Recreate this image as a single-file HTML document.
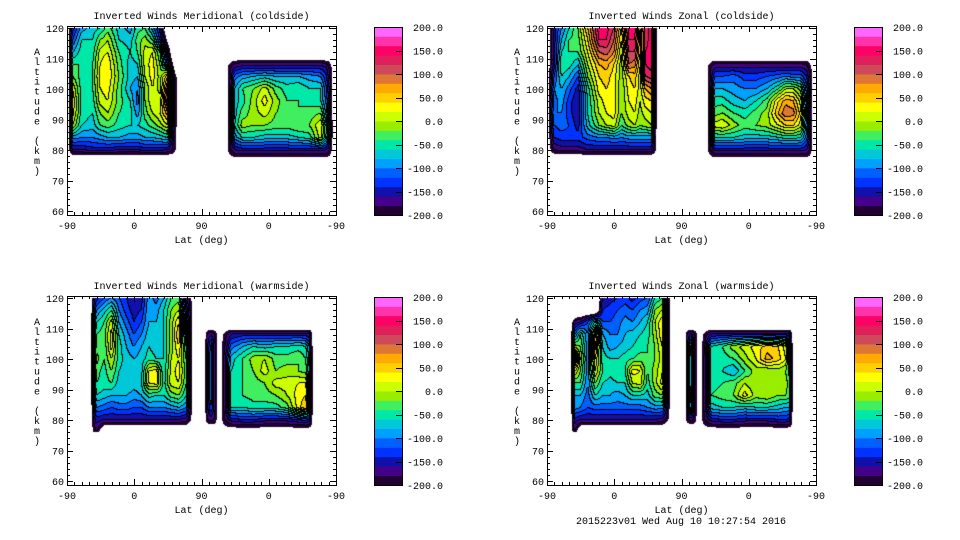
<!DOCTYPE html>
<html><head><meta charset="utf-8">
<style>
html,body{margin:0;padding:0;background:#fff;}
#root{position:relative;width:960px;height:540px;overflow:hidden;background:#fff;}
canvas{position:absolute;}
svg{position:absolute;left:0;top:0;}
text{font-family:"Liberation Mono",monospace;font-size:10px;fill:#000;}
</style></head>
<body>
<div id="root">
<svg id="ov" width="960" height="540"></svg>
</div>
<script>
const levelMin = -200;
const levelStep = 20;
const bandColors = ["#220033","#440088","#1010aa","#0033ff","#0060ff","#00a0ff","#00c8d8","#00e8a8","#40ee60","#99ee00","#ccff00","#ffff00","#ffd000","#ffaa00","#dd7733","#cc4a5a","#e0205a","#ff0066","#ff33aa","#ff66ff"];
const cbarTicks = [200,150,100,50,0,-50,-100,-150,-200];
const xTickLabels = ["-90","0","90","0","-90"];
const xTickPos = [0,90,180,270,360];
const yTicks = [60,70,80,90,100,110,120];

// ---------- Panel A: Meridional coldside ----------
const aLeftLat = [2,8,20,35,45,55,70,85,95,105,115,125,135,143,148];
const aLeftAlt = [120,116,112,108,104,100,96,92,88,84,80,78];
const aLeftVal = [
[-240,-150,-90,-70,-60,-30,-70,-90,-50,-40,-90,-150,-260,-260,-260],
[-240,-120,-60,-60,-20,0,-60,-70,-30,-10,-40,-120,-240,-260,-260],
[-240,-80,-50,-50,10,20,-40,-60,-40,10,20,-40,-160,-260,-260],
[-240,-40,-40,-40,20,40,-30,-70,-60,10,30,-20,-120,-240,-260],
[-240,-20,-50,-40,30,40,-20,-70,-80,0,30,-10,60,-170,-240],
[-240,20,-50,-40,20,30,-30,-80,-100,-20,20,-10,110,-160,-240],
[-240,40,-50,-50,10,20,-30,-60,-110,-20,20,10,130,-160,-240],
[-240,30,-50,-60,-20,0,-40,-50,-90,-30,0,20,70,-160,-240],
[-240,0,-60,-70,-40,-30,-50,-60,-60,-50,-30,-10,20,-170,-240],
[-240,-90,-100,-100,-90,-80,-80,-90,-90,-80,-80,-70,-60,-180,-240],
[-240,-160,-160,-150,-150,-150,-160,-160,-160,-150,-150,-150,-160,-190,-240],
[-240,-240,-240,-240,-240,-240,-240,-240,-240,-240,-240,-240,-240,-240,-240]];
const aRightLat = [211,218,225,235,250,265,280,295,310,325,340,348,356];
const aRightAlt = [110,107,104,100,96,92,88,84,80,77];
const aRightVal = [
[-240,-240,-240,-240,-240,-240,-240,-240,-240,-240,-240,-240,-240],
[-240,-190,-160,-150,-150,-150,-150,-150,-150,-150,-150,-160,-240],
[-240,-190,-110,-90,-80,-70,-80,-80,-80,-90,-100,-140,-240],
[-240,-190,-80,-40,-20,10,-30,-50,-40,-60,-60,-120,-240],
[-240,-190,-70,-50,-10,30,-10,-40,-40,-50,-60,-110,-240],
[-240,-190,-70,-30,-10,10,-20,-30,-40,-30,-20,-90,-240],
[-240,-190,-60,-10,-20,-20,-30,-30,-20,-20,20,-60,-240],
[-240,-190,-90,-60,-60,-70,-70,-70,-60,-50,10,-70,-240],
[-240,-190,-160,-150,-150,-150,-150,-150,-150,-150,-150,-160,-240],
[-240,-240,-240,-240,-240,-240,-240,-240,-240,-240,-240,-240,-240]];

// ---------- Panel B: Zonal coldside ----------
const bLeftLat = [2,10,20,30,42,55,70,80,90,100,110,118,125,132,140,147];
const bLeftAlt = [120,116,112,108,104,100,96,92,88,84,80,78];
const bLeftVal = [
[-240,-150,-100,-60,-20,60,150,150,120,40,150,150,60,130,150,-240],
[-240,-150,-80,-40,-30,40,140,140,100,20,140,140,50,130,150,-240],
[-240,-150,-60,-40,-40,20,100,110,80,0,120,120,40,140,150,-240],
[-240,-150,-40,-50,-80,0,60,70,40,-10,100,90,20,140,150,-240],
[-240,-120,-60,-80,-120,-20,40,50,30,-10,40,50,10,120,130,-240],
[-240,-100,-80,-110,-150,-50,30,40,30,-20,30,40,10,60,80,-240],
[-240,-110,-90,-130,-160,-60,10,30,30,-20,20,30,0,30,40,-240],
[-240,-100,-100,-130,-160,-60,0,20,30,-20,10,20,-10,10,20,-240],
[-240,-120,-110,-120,-150,-70,-20,0,10,-40,-10,0,-20,-10,0,-240],
[-240,-140,-130,-130,-130,-110,-100,-100,-90,-100,-90,-90,-90,-90,-90,-240],
[-240,-180,-170,-170,-170,-160,-160,-160,-160,-160,-160,-160,-160,-160,-160,-240],
[-240,-240,-240,-240,-240,-240,-240,-240,-240,-240,-240,-240,-240,-240,-240,-240]];
const bRightLat = [211,218,225,235,250,265,280,295,310,320,330,340,348,356];
const bRightAlt = [110,107,104,100,96,92,88,84,80,77];
const bRightVal = [
[-240,-240,-240,-240,-240,-240,-240,-240,-240,-240,-240,-240,-240,-240],
[-240,-190,-160,-160,-160,-160,-160,-160,-160,-160,-160,-160,-170,-240],
[-240,-190,-120,-120,-110,-130,-130,-120,-110,-100,-110,-110,-140,-240],
[-240,-190,-80,-80,-90,-100,-100,-80,-40,0,0,-30,-110,-240],
[-240,-190,-50,-50,-70,-80,-60,-30,40,70,60,10,-90,-240],
[-240,-190,-30,-20,-40,-50,-30,-10,60,100,90,30,-80,-240],
[-240,-190,10,20,-10,-30,-20,-10,20,40,40,10,-90,-240],
[-240,-190,-60,-60,-60,-70,-70,-70,-60,-50,-50,-60,-110,-240],
[-240,-190,-150,-150,-150,-150,-150,-150,-150,-150,-150,-150,-160,-240],
[-240,-240,-240,-240,-240,-240,-240,-240,-240,-240,-240,-240,-240,-240]];

// ---------- Panel C: Meridional warmside ----------
const cLeftLat = [32,40,50,60,70,80,90,100,110,120,130,140,150,160,168,173];
const cLeftAlt = [120,116,112,108,104,100,96,92,88,84,80,76];
const cLeftVal = [
[-240,-150,-120,-100,-120,-140,-160,-150,-90,-110,-80,-40,-30,-150,-240,-240],
[-240,-100,-70,-40,-100,-130,-150,-140,-80,-90,-60,-20,0,-120,-240,-240],
[-240,-60,-40,10,-80,-110,-140,-120,-80,-80,-60,-10,40,-100,-240,-240],
[-240,-40,-30,30,-60,-90,-120,-100,-70,-80,-60,-10,60,-80,-240,-240],
[-240,-30,-40,30,-50,-80,-100,-80,-60,-70,-60,-10,40,-60,-240,-240],
[-240,-10,-40,0,-50,-70,-80,-70,-50,-60,-60,0,20,-40,-240,-240],
[-240,-30,-50,-20,-60,-70,-70,-70,20,30,-60,10,30,-30,-240,-240],
[-240,-40,-50,-40,-70,-60,-70,-60,20,30,-50,10,20,-40,-240,-240],
[-240,-60,-70,-80,-80,-80,-90,-80,-50,-60,-60,-30,-20,-60,-240,-240],
[-240,-100,-110,-120,-110,-110,-120,-120,-100,-100,-100,-90,-80,-100,-240,-240],
[-240,-150,-160,-160,-160,-160,-160,-160,-160,-160,-160,-160,-160,-170,-240,-240],
[-240,-180,-250,-250,-250,-250,-250,-250,-250,-250,-250,-250,-250,-250,-250,-240]];
const cMidLat = [184,188,193,198,202];
const cMidAlt = [110,108,104,96,88,84,80,78];
const cMidVal = [
[-240,-240,-240,-240,-240],
[-240,-180,-160,-180,-240],
[-240,-170,-110,-170,-240],
[-240,-170,-100,-170,-240],
[-240,-170,-100,-170,-240],
[-240,-170,-120,-170,-240],
[-240,-185,-170,-185,-240],
[-240,-240,-240,-240,-240]];
const cRightLat = [205,212,220,235,250,265,280,295,310,320,325,329];
const cRightAlt = [110,108,104,100,96,92,88,84,80,77];
const cRightVal = [
[-240,-240,-240,-240,-240,-240,-240,-240,-240,-240,-240,-240],
[-240,-190,-160,-150,-150,-150,-150,-150,-150,-150,-160,-240],
[-240,-180,-110,-80,-60,-70,-60,-60,-50,-60,-100,-240],
[-240,-170,-70,-40,-10,0,-30,-30,-20,-40,-90,-240],
[-240,-170,-60,-40,-20,10,-20,-10,-20,-30,-80,-240],
[-240,-170,-50,-40,-30,-20,10,10,20,20,-60,-240],
[-240,-170,-50,-40,-30,-30,-20,0,30,40,-40,-240],
[-240,-170,-60,-60,-50,-50,-50,-30,30,60,-40,-240],
[-240,-180,-150,-140,-140,-150,-150,-150,-140,-130,-150,-240],
[-240,-240,-240,-240,-240,-240,-240,-240,-240,-240,-240,-240]];

// ---------- Panel D: Zonal warmside ----------
const dLeftLat = [32,38,45,55,65,75,85,95,105,115,125,135,145,155,165,173];
const dLeftAlt = [120,116,112,108,104,100,96,92,88,84,80,76];
const dLeftVal = [
[-250,-250,-250,-250,-250,-160,-150,-140,-130,-150,-130,-120,-60,-40,-240,-240],
[-250,-250,-250,-250,-250,-140,-130,-120,-110,-120,-100,-90,-20,0,-240,-240],
[-240,-170,-160,-120,-60,-120,-120,-110,-90,-100,-80,-60,0,40,-240,-240],
[-240,-100,-40,-100,50,-80,-100,-100,-80,-70,-60,-50,-10,40,-240,-240],
[-240,-10,-20,-90,70,-60,-90,-80,-70,-60,-50,-40,-20,20,-240,-240],
[-240,110,0,-90,40,-50,-60,-60,-50,-40,-30,-40,-20,10,-240,-240],
[-240,20,-20,-90,20,-40,-50,-40,-40,30,20,-40,-10,20,-240,-240],
[-240,-40,-40,-100,-20,-60,-70,-60,-60,0,10,-50,-10,30,-240,-240],
[-240,-80,-80,-110,-60,-80,-80,-90,-80,-60,-60,-70,-30,-20,-240,-240],
[-240,-90,-100,-120,-110,-110,-110,-110,-110,-110,-110,-100,-90,-90,-240,-240],
[-240,-150,-160,-160,-160,-160,-160,-160,-160,-160,-160,-160,-160,-170,-240,-240],
[-240,-180,-250,-250,-250,-250,-250,-250,-250,-250,-250,-250,-250,-250,-250,-240]];
const dMidLat = [184,188,193,198,202];
const dMidAlt = [110,108,104,96,88,84,80,78];
const dMidVal = [
[-240,-240,-240,-240,-240],
[-240,-180,-150,-180,-240],
[-240,-180,-60,-180,-240],
[-240,-180,-50,-180,-240],
[-240,-180,-60,-180,-240],
[-240,-180,-80,-180,-240],
[-240,-190,-170,-190,-240],
[-240,-240,-240,-240,-240]];
const dRightLat = [205,212,220,235,250,265,280,295,310,320,325,329];
const dRightAlt = [110,108,104,100,96,92,88,84,80,77];
const dRightVal = [
[-240,-240,-240,-240,-240,-240,-240,-240,-240,-240,-240,-240],
[-240,-190,-160,-150,-150,-150,-150,-150,-150,-150,-160,-240],
[-240,-180,-60,-40,-10,10,30,50,40,10,-80,-240],
[-240,-170,-50,-50,-40,-10,20,70,50,20,-60,-240],
[-240,-170,-60,-60,-80,-40,-10,-20,-10,-20,-50,-240],
[-240,-170,-50,-40,-30,0,-20,-10,0,-10,-30,-240],
[-240,-170,-40,-30,-20,30,-10,0,-20,-20,-30,-240],
[-240,-170,-70,-60,-60,-70,-60,-60,-70,-80,-80,-240],
[-240,-180,-150,-140,-140,-150,-150,-150,-140,-140,-150,-240],
[-240,-240,-240,-240,-240,-240,-240,-240,-240,-240,-240,-240]];

const panelTitles = ["Inverted Winds Meridional (coldside)","Inverted Winds Zonal (coldside)","Inverted Winds Meridional (warmside)","Inverted Winds Zonal (warmside)"];
const panelNames = ["meridional-coldside","zonal-coldside","meridional-warmside","zonal-warmside"];

const root = document.getElementById('root');
const ov = document.getElementById('ov');
const NS = 'http://www.w3.org/2000/svg';
const FW = 269, FH = 189;
const EDGE_RENDER = -212;

function sv(tag, attrs, parent){
  const e = document.createElementNS(NS, tag);
  for (const k in attrs) e.setAttribute(k, attrs[k]);
  (parent||ov).appendChild(e);
  return e;
}
function interp(arr, x){
  const asc = arr[arr.length-1] > arr[0];
  for (let i=0;i<arr.length-1;i++){
    const a=arr[i], b=arr[i+1];
    if ((asc && x>=a && x<=b) || (!asc && x<=a && x>=b)) return [i,(x-a)/(b-a)];
  }
  return null;
}
function ev(v){ return v===-240 ? EDGE_RENDER : v; }
function bandOf(v){ let b=Math.floor((v-levelMin)/levelStep); return Math.max(0,Math.min(19,b)); }
function hex(c){ return [parseInt(c.substr(1,2),16),parseInt(c.substr(3,2),16),parseInt(c.substr(5,2),16)]; }
const rgb = bandColors.map(hex);

function drawPanel(idx, ox, oy, blocks){
  const xOf = u => ox + u*FW/360;
  const yOf = a => oy + 2 + (120-a)*183/60;
  const uOf = px => (px-ox)*360/FW;
  const aOf = py => 120 - (py-oy-2)*60/183;
  const cv = document.createElement('canvas');
  cv.width = FW; cv.height = FH;
  cv.style.left = ox+'px'; cv.style.top = oy+'px';
  
  
  root.insertBefore(cv, ov);
  const ctx = cv.getContext('2d');
  const band = new Int8Array(FW*FH).fill(-1);
  for (let py=0; py<FH; py++){
    for (let px=0; px<FW; px++){
      const u = uOf(ox+px+0.5), a = aOf(oy+py+0.5);
      for (const bl of blocks){
        const sx = interp(bl.lat, u); if(!sx) continue;
        const sy = interp(bl.alt, a); if(!sy) continue;
        const [i,fx]=sx, [j,fy]=sy;
        const v00=ev(bl.val[j][i]), v01=ev(bl.val[j][i+1]), v10=ev(bl.val[j+1][i]), v11=ev(bl.val[j+1][i+1]);
        const v = (v00*(1-fx)+v01*fx)*(1-fy) + (v10*(1-fx)+v11*fx)*fy;
        if (v < -200) break;
        band[py*FW+px] = bandOf(v);
        break;
      }
    }
  }
  const img = ctx.createImageData(FW, FH);
  for (let py=0; py<FH; py++){
    for (let px=0; px<FW; px++){
      const k = py*FW+px, b = band[k];
      const o = k*4;
      if (b<0){ img.data[o+3]=0; continue; }
      let edge = false;
      if (px<FW-1 && band[k+1]>=0 && band[k+1]!==b) edge = true;
      if (py<FH-1 && band[k+FW]>=0 && band[k+FW]!==b) edge = true;
      const c = edge ? [0,0,0] : rgb[b];
      img.data[o]=c[0]; img.data[o+1]=c[1]; img.data[o+2]=c[2]; img.data[o+3]=255;
    }
  }
  ctx.putImageData(img, 0, 0);

  const g = sv('g', {});
  
  
  const fr = sv('rect', {x:ox+0.5, y:oy+0.5, width:FW, height:FH, fill:'none', stroke:'#000', 'stroke-width':1}, g);
  
  
  const t = sv('text', {x:ox+FW/2, y:oy-7, 'text-anchor':'middle'}, g);
  t.textContent = panelTitles[idx];
  
  
  for (let u=0; u<=360; u+=10){
    const x = Math.round(xOf(u))+0.5;
    const len = (u%90===0)?6:3;
    sv('line', {x1:x, y1:oy+FH, x2:x, y2:oy+FH-len, stroke:'#000'}, g);
    sv('line', {x1:x, y1:oy, x2:x, y2:oy+len, stroke:'#000'}, g);
  }
  xTickPos.forEach((u,i)=>{
    const tl = sv('text', {x:xOf(u), y:oy+FH+14, 'text-anchor':'middle'}, g);
    tl.textContent = xTickLabels[i];
    
    
  });
  const xt = sv('text', {x:ox+FW/2, y:oy+FH+28, 'text-anchor':'middle'}, g);
  xt.textContent = 'Lat (deg)';
  
  
  for (let a=60; a<=120; a+=2){
    const y = Math.round(yOf(a))+0.5;
    const len = (a%10===0)?6:3;
    sv('line', {x1:ox, y1:y, x2:ox+len, y2:y, stroke:'#000'}, g);
    sv('line', {x1:ox+FW, y1:y, x2:ox+FW-len, y2:y, stroke:'#000'}, g);
  }
  yTicks.forEach(a=>{
    const tl = sv('text', {x:ox-3, y:yOf(a)+4, 'text-anchor':'end'}, g);
    tl.textContent = String(a);
    
    
  });
  const ylab = 'Altitude (km)';
  const yt = sv('text', {x:ox-30, y:oy+28, 'text-anchor':'middle'}, g);
  
  
  for (let i=0;i<ylab.length;i++){
    const ts = sv('tspan', {x:ox-30, y:oy+29+i*9.9}, yt);
    ts.textContent = ylab[i];
  }
  const cx = ox+307, cy = oy+1, cw = 28, ch = 188;
  const cb = sv('g', {}, g);
  
  
  for (let b=0;b<20;b++){
    const r = sv('rect', {x:cx, y:cy+ch-(b+1)*ch/20, width:cw, height:ch/20+0.4, fill:bandColors[b]}, cb);
    
    
  }
  sv('rect', {x:cx+0.5, y:cy+0.5, width:cw, height:ch, fill:'none', stroke:'#000'}, cb);
  cbarTicks.forEach(v=>{
    const y = cy + (200-v)*ch/400;
    sv('line', {x1:cx+cw-6, y1:Math.round(y)+0.5, x2:cx+cw, y2:Math.round(y)+0.5, stroke:'#000'}, cb);
    const tl = sv('text', {x:cx+69, y:y+4, 'text-anchor':'end'}, cb);
    tl.textContent = v.toFixed(1);
    
    
  });
}

drawPanel(0, 67, 26, [{lat:aLeftLat,alt:aLeftAlt,val:aLeftVal},{lat:aRightLat,alt:aRightAlt,val:aRightVal}]);
drawPanel(1, 547, 26, [{lat:bLeftLat,alt:bLeftAlt,val:bLeftVal},{lat:bRightLat,alt:bRightAlt,val:bRightVal}]);
drawPanel(2, 67, 296, [{lat:cLeftLat,alt:cLeftAlt,val:cLeftVal},{lat:cMidLat,alt:cMidAlt,val:cMidVal},{lat:cRightLat,alt:cRightAlt,val:cRightVal}]);
drawPanel(3, 547, 296, [{lat:dLeftLat,alt:dLeftAlt,val:dLeftVal},{lat:dMidLat,alt:dMidAlt,val:dMidVal},{lat:dRightLat,alt:dRightAlt,val:dRightVal}]);

const foot = sv('text', {x:681, y:524, 'text-anchor':'middle'});
foot.textContent = '2015223v01 Wed Aug 10 10:27:54 2016';


</script>
</body></html>
